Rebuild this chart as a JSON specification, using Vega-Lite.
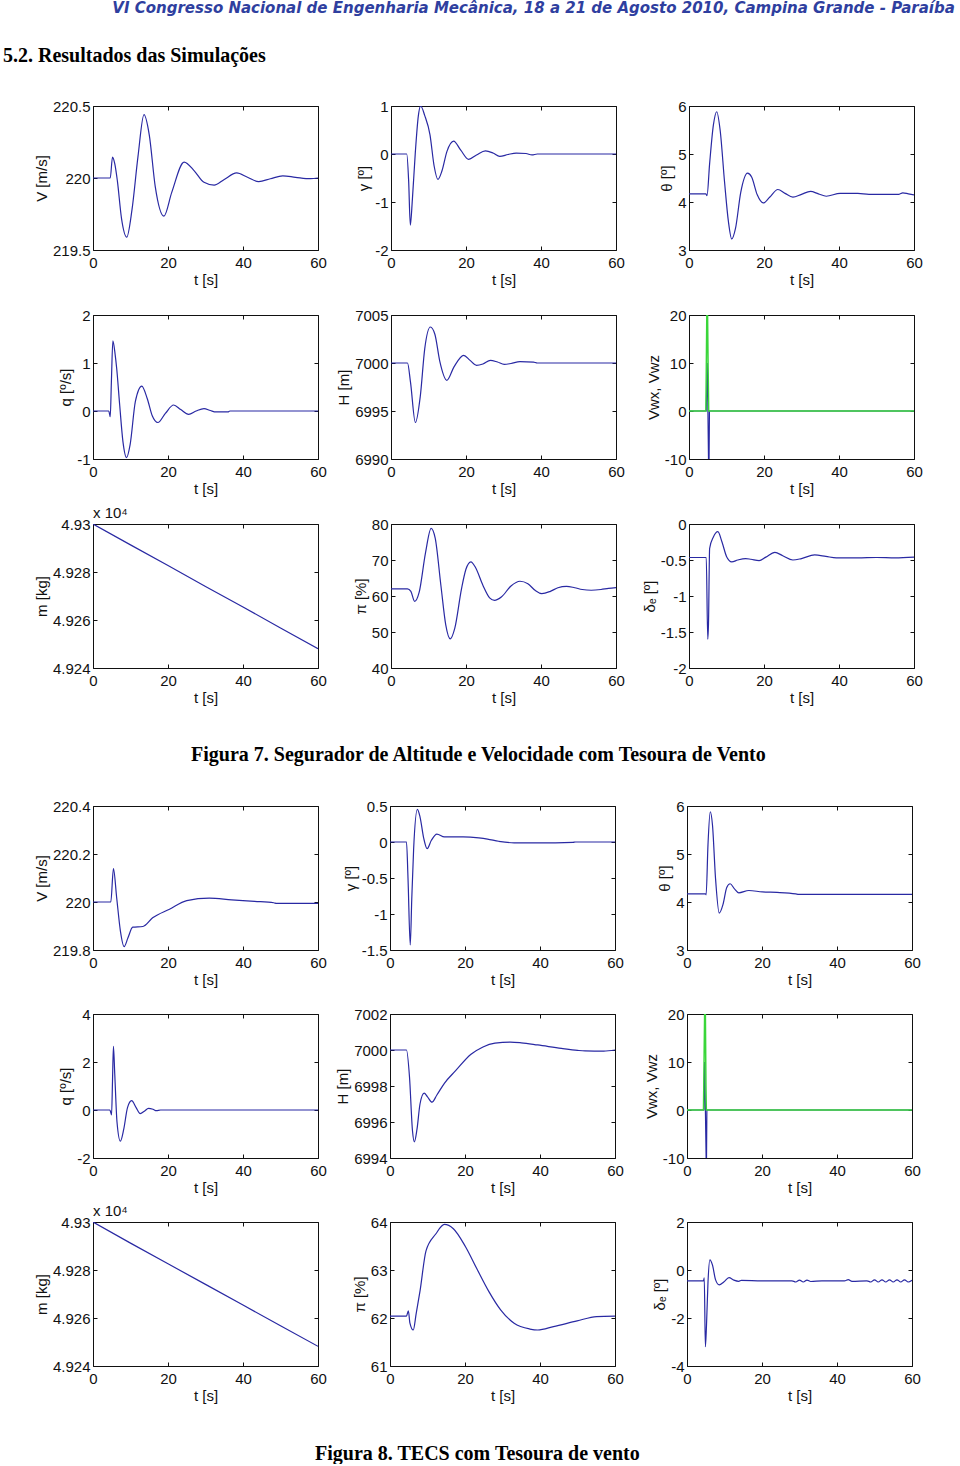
{
"$schema":"https://vega.github.io/schema/vega-lite/v6.json",
"autosize":{"type":"pad"},
"padding":{"left":2,"top":0,"right":0,"bottom":0},
"background":"white",
"title":{"text":"VI Congresso Nacional de Engenharia Mecânica, 18 a 21 de Agosto 2010, Campina Grande - Paraíba","anchor":"end","dx":32,"offset":30,"font":"DejaVu Sans","fontSize":15,"fontStyle":"italic","fontWeight":"bold","color":"#2f3f9f"},
"datasets":{
"a7v":[{"t":0,"v":220},{"t":4.6,"v":220},{"t":5.2,"v":220.145},{"t":5.8,"v":220.1},{"t":6.5,"v":219.98},{"t":7.6,"v":219.72},{"t":9.0,"v":219.59},{"t":10.4,"v":219.78},{"t":12,"v":220.15},{"t":13.6,"v":220.44},{"t":15,"v":220.3},{"t":16.6,"v":219.94},{"t":18.9,"v":219.735},{"t":21,"v":219.9},{"t":24.3,"v":220.11},{"t":27,"v":220.05},{"t":29.6,"v":219.97},{"t":32.3,"v":219.95},{"t":35,"v":219.99},{"t":38.3,"v":220.035},{"t":41.2,"v":220.005},{"t":44.2,"v":219.975},{"t":47.3,"v":219.995},{"t":50.6,"v":220.015},{"t":54,"v":220.005},{"t":58,"v":219.995},{"t":60,"v":220}],
"a7g":[{"t":0,"v":0},{"t":4.2,"v":0},{"t":4.7,"v":-0.55},{"t":5.15,"v":-1.48},{"t":5.7,"v":-0.95},{"t":6.5,"v":0.05},{"t":7.3,"v":0.8},{"t":7.9,"v":1.0},{"t":9,"v":0.8},{"t":10.4,"v":0.4},{"t":11.5,"v":-0.25},{"t":12.5,"v":-0.53},{"t":13.6,"v":-0.35},{"t":14.9,"v":0.05},{"t":16.7,"v":0.27},{"t":18.6,"v":0.08},{"t":20.7,"v":-0.11},{"t":22.8,"v":-0.02},{"t":25.2,"v":0.065},{"t":27.2,"v":0.02},{"t":29,"v":-0.05},{"t":31.2,"v":-0.01},{"t":33.4,"v":0.02},{"t":36,"v":0.01},{"t":37.6,"v":-0.02},{"t":39,"v":0},{"t":60,"v":0}],
"a7th":[{"t":0,"v":4.17},{"t":4.5,"v":4.17},{"t":4.8,"v":4.13},{"t":5.5,"v":4.8},{"t":6.5,"v":5.6},{"t":7.4,"v":5.88},{"t":8.3,"v":5.5},{"t":9.5,"v":4.4},{"t":10.5,"v":3.6},{"t":11.4,"v":3.23},{"t":12.4,"v":3.45},{"t":13.8,"v":4.2},{"t":15.6,"v":4.6},{"t":16.7,"v":4.52},{"t":18.2,"v":4.15},{"t":19.8,"v":3.98},{"t":21.5,"v":4.1},{"t":23.7,"v":4.26},{"t":25.6,"v":4.18},{"t":27.7,"v":4.1},{"t":30,"v":4.16},{"t":32.4,"v":4.22},{"t":34.5,"v":4.17},{"t":36.6,"v":4.12},{"t":40.3,"v":4.18},{"t":45,"v":4.18},{"t":48,"v":4.16},{"t":56,"v":4.16},{"t":57,"v":4.19},{"t":58.5,"v":4.17},{"t":60,"v":4.15}],
"a7q":[{"t":0,"v":0},{"t":4.2,"v":0},{"t":4.6,"v":-0.12},{"t":4.9,"v":0.6},{"t":5.3,"v":1.46},{"t":5.9,"v":1.18},{"t":6.3,"v":0.9},{"t":7.1,"v":0.14},{"t":8,"v":-0.65},{"t":8.95,"v":-0.97},{"t":9.9,"v":-0.7},{"t":11.3,"v":0.2},{"t":13,"v":0.52},{"t":14.5,"v":0.25},{"t":15.8,"v":-0.1},{"t":17.3,"v":-0.24},{"t":19.3,"v":-0.05},{"t":21.5,"v":0.125},{"t":23.4,"v":0.03},{"t":25.5,"v":-0.07},{"t":27.5,"v":0},{"t":29.6,"v":0.05},{"t":31.3,"v":0.01},{"t":32.8,"v":-0.02},{"t":36,"v":-0.02},{"t":36.5,"v":0},{"t":60,"v":0}],
"a7h":[{"t":0,"v":7000},{"t":4.4,"v":7000},{"t":5.2,"v":6998},{"t":6.5,"v":6993.8},{"t":7.8,"v":6996.5},{"t":9,"v":7001.5},{"t":10.5,"v":7003.75},{"t":11.7,"v":7003},{"t":13,"v":7000.2},{"t":14.9,"v":6998.2},{"t":16.8,"v":6999.6},{"t":19.4,"v":7000.8},{"t":21,"v":7000.3},{"t":22.8,"v":6999.76},{"t":24.5,"v":6999.9},{"t":26.5,"v":7000.28},{"t":28.4,"v":7000.1},{"t":30.2,"v":6999.86},{"t":32,"v":6999.95},{"t":34.4,"v":7000.14},{"t":38,"v":7000.1},{"t":39,"v":7000},{"t":60,"v":7000}],
"a7wz":[{"t":0,"v":0},{"t":4.6,"v":0},{"t":4.85,"v":10},{"t":5.0,"v":3},{"t":5.2,"v":-10},{"t":5.35,"v":-10},{"t":5.45,"v":0},{"t":60,"v":0}],
"a7wx":[{"t":0,"v":0},{"t":4.5,"v":0},{"t":4.75,"v":20},{"t":4.95,"v":20},{"t":5.1,"v":9},{"t":5.25,"v":0},{"t":60,"v":0}],
"a7m":[{"t":0,"v":4.93},{"t":10,"v":4.92913},{"t":20,"v":4.92827},{"t":30,"v":4.9274},{"t":40,"v":4.92654},{"t":50,"v":4.92567},{"t":60,"v":4.9248}],
"a7p":[{"t":0,"v":62},{"t":4.4,"v":62},{"t":5.3,"v":61.3},{"t":6.3,"v":58.5},{"t":7.5,"v":61},{"t":9.2,"v":72},{"t":10.7,"v":78.8},{"t":11.8,"v":76},{"t":13.3,"v":63},{"t":14.6,"v":52},{"t":15.8,"v":48.1},{"t":17,"v":51},{"t":18.8,"v":62},{"t":20,"v":67.5},{"t":21.3,"v":69.5},{"t":22.5,"v":68},{"t":24.5,"v":63},{"t":26.3,"v":59.5},{"t":27.6,"v":58.8},{"t":29.5,"v":59.8},{"t":32,"v":62.8},{"t":34.4,"v":64.1},{"t":36.5,"v":63.4},{"t":38.5,"v":61.5},{"t":40.2,"v":60.65},{"t":42.5,"v":61.3},{"t":44.5,"v":62.3},{"t":46.8,"v":62.7},{"t":49,"v":62.3},{"t":51,"v":61.8},{"t":53.4,"v":61.6},{"t":56,"v":61.8},{"t":58,"v":62.1},{"t":60,"v":62.3}],
"a7d":[{"t":0,"v":-0.465},{"t":4.6,"v":-0.465},{"t":5.0,"v":-1.6},{"t":5.2,"v":-1.38},{"t":5.5,"v":-0.34},{"t":6.5,"v":-0.18},{"t":7.7,"v":-0.107},{"t":8.8,"v":-0.25},{"t":10,"v":-0.45},{"t":11.4,"v":-0.526},{"t":13,"v":-0.5},{"t":15.1,"v":-0.48},{"t":16.5,"v":-0.49},{"t":18.7,"v":-0.51},{"t":20.5,"v":-0.46},{"t":22.9,"v":-0.395},{"t":25,"v":-0.44},{"t":27.7,"v":-0.5},{"t":30,"v":-0.48},{"t":33.5,"v":-0.43},{"t":36.5,"v":-0.45},{"t":39.3,"v":-0.47},{"t":45,"v":-0.47},{"t":50,"v":-0.465},{"t":55,"v":-0.47},{"t":60,"v":-0.46}],
"b8v":[{"t":0,"v":220},{"t":4.75,"v":220},{"t":5.45,"v":220.139},{"t":6.3,"v":220.02},{"t":7.3,"v":219.88},{"t":8.3,"v":219.814},{"t":9.3,"v":219.85},{"t":10.6,"v":219.895},{"t":13.3,"v":219.898},{"t":15.9,"v":219.934},{"t":20.4,"v":219.97},{"t":25,"v":220.006},{"t":31,"v":220.016},{"t":37,"v":220.009},{"t":43.1,"v":220.003},{"t":48.2,"v":219.997},{"t":49,"v":219.994},{"t":60,"v":219.994}],
"b8g":[{"t":0,"v":0},{"t":4.4,"v":0},{"t":4.8,"v":-0.5},{"t":5.4,"v":-1.43},{"t":5.8,"v":-0.8},{"t":6.3,"v":-0.1},{"t":7.3,"v":0.453},{"t":8,"v":0.35},{"t":9,"v":0.05},{"t":9.9,"v":-0.093},{"t":11,"v":0.02},{"t":12.5,"v":0.11},{"t":14.5,"v":0.07},{"t":19.5,"v":0.07},{"t":23.7,"v":0.056},{"t":26,"v":0.04},{"t":29,"v":0.01},{"t":33.1,"v":-0.012},{"t":39.4,"v":-0.012},{"t":48.8,"v":-0.005},{"t":49.5,"v":0},{"t":60,"v":0}],
"b8th":[{"t":0,"v":4.17},{"t":4.9,"v":4.17},{"t":5.1,"v":4.15},{"t":5.6,"v":5.2},{"t":6.2,"v":5.88},{"t":6.8,"v":5.6},{"t":7.6,"v":4.5},{"t":8.6,"v":3.77},{"t":9.6,"v":3.95},{"t":10.6,"v":4.3},{"t":11.5,"v":4.38},{"t":12.6,"v":4.28},{"t":13.8,"v":4.19},{"t":16.5,"v":4.24},{"t":20.1,"v":4.21},{"t":24,"v":4.2},{"t":29,"v":4.17},{"t":29.8,"v":4.16},{"t":33.8,"v":4.16},{"t":60,"v":4.16}],
"b8q":[{"t":0,"v":0},{"t":4.5,"v":0},{"t":4.95,"v":-0.2},{"t":5.2,"v":1.2},{"t":5.45,"v":2.65},{"t":5.8,"v":1.5},{"t":6.4,"v":-0.5},{"t":7.3,"v":-1.3},{"t":8.2,"v":-0.8},{"t":9.2,"v":0.1},{"t":10.3,"v":0.39},{"t":11.5,"v":0.1},{"t":12.6,"v":-0.15},{"t":13.7,"v":-0.05},{"t":14.8,"v":0.07},{"t":16,"v":0.03},{"t":16.9,"v":-0.03},{"t":18,"v":0},{"t":60,"v":0}],
"b8h":[{"t":0,"v":7000},{"t":4.4,"v":7000},{"t":5.2,"v":6998.5},{"t":6,"v":6995.5},{"t":6.5,"v":6994.9},{"t":7.2,"v":6995.6},{"t":8,"v":6997.0},{"t":9.1,"v":6997.6},{"t":10,"v":6997.4},{"t":11.2,"v":6997.1},{"t":12.5,"v":6997.5},{"t":14.5,"v":6998.15},{"t":17.5,"v":6998.85},{"t":21.6,"v":6999.76},{"t":24.8,"v":7000.17},{"t":28,"v":7000.38},{"t":32.1,"v":7000.44},{"t":35,"v":7000.4},{"t":39.4,"v":7000.28},{"t":45.7,"v":7000.09},{"t":50,"v":6999.98},{"t":52,"v":6999.95},{"t":57,"v":6999.94},{"t":60,"v":7000}],
"b8wz":[{"t":0,"v":0},{"t":4.5,"v":0},{"t":4.7,"v":10},{"t":4.85,"v":3},{"t":5.1,"v":-10},{"t":5.2,"v":-10},{"t":5.3,"v":0},{"t":60,"v":0}],
"b8wx":[{"t":0,"v":0},{"t":4.4,"v":0},{"t":4.7,"v":20},{"t":4.9,"v":20},{"t":5.05,"v":5},{"t":5.15,"v":0},{"t":60,"v":0}],
"b8m":[{"t":0,"v":4.93},{"t":10,"v":4.92912},{"t":20,"v":4.92826},{"t":30,"v":4.9274},{"t":40,"v":4.92654},{"t":50,"v":4.92568},{"t":60,"v":4.92482}],
"b8p":[{"t":0,"v":62.04},{"t":4.4,"v":62.04},{"t":4.9,"v":62.15},{"t":5.3,"v":61.9},{"t":6.2,"v":61.75},{"t":7,"v":62.1},{"t":8,"v":62.56},{"t":9.6,"v":63.4},{"t":12.2,"v":63.75},{"t":14.5,"v":63.95},{"t":16.9,"v":63.86},{"t":20.1,"v":63.49},{"t":23.2,"v":63.02},{"t":26.3,"v":62.56},{"t":29.5,"v":62.17},{"t":33.1,"v":61.89},{"t":37.3,"v":61.77},{"t":39.4,"v":61.75},{"t":43.6,"v":61.82},{"t":49.9,"v":61.94},{"t":55.1,"v":62.03},{"t":60,"v":62.04}],
"b8d":[{"t":0,"v":-0.45},{"t":4.4,"v":-0.45},{"t":4.6,"v":-0.33},{"t":4.9,"v":-3.2},{"t":5.2,"v":-2.3},{"t":5.6,"v":-0.5},{"t":6.1,"v":0.42},{"t":6.8,"v":0.2},{"t":7.6,"v":-0.4},{"t":8.6,"v":-0.62},{"t":9.8,"v":-0.5},{"t":11.2,"v":-0.32},{"t":12.5,"v":-0.42},{"t":13.8,"v":-0.47},{"t":14.5,"v":-0.43},{"t":20,"v":-0.45},{"t":28,"v":-0.45},{"t":29,"v":-0.5},{"t":30,"v":-0.42},{"t":31,"v":-0.5},{"t":32,"v":-0.42},{"t":33,"v":-0.48},{"t":36,"v":-0.45},{"t":42,"v":-0.45},{"t":43,"v":-0.4},{"t":44,"v":-0.47},{"t":48,"v":-0.45},{"t":49,"v":-0.5},{"t":50,"v":-0.41},{"t":51,"v":-0.5},{"t":52,"v":-0.41},{"t":53,"v":-0.5},{"t":54,"v":-0.41},{"t":55,"v":-0.5},{"t":56,"v":-0.41},{"t":57,"v":-0.5},{"t":58,"v":-0.41},{"t":59,"v":-0.5},{"t":60,"v":-0.43}]
},
"vconcat":[{
"title":{"text":"5.2. Resultados das Simulações","anchor":"start","dx":-31,"offset":33,"font":"Liberation Serif","fontSize":20,"fontWeight":"bold","color":"#000"},
"spacing":33,
"vconcat":[
{
"title":{"text":"Figura 7. Segurador de Altitude e Velocidade com Tesoura de Vento","orient":"bottom","anchor":"middle","offset":39,"font":"Liberation Serif","fontSize":20,"fontWeight":"bold","color":"#000"},
"columns":3,"bounds":"flush","spacing":{"row":65,"column":73},
"concat":[
{"width":225,"height":144,"data":{"name":"a7v"},"layer":[
 {"mark":{"type":"line","clip":true},"encoding":{"x":{"field":"t","type":"quantitative","scale":{"domain":[0,60],"nice":false},"axis":{"values":[0,20,40,60],"title":"t [s]"}},"y":{"field":"v","type":"quantitative","scale":{"domain":[219.5,220.5],"nice":false,"zero":false},"axis":{"values":[219.5,220,220.5],"title":"V [m/s]","labelExpr":"'' + datum.value"}}}},
 {"mark":{"type":"line","opacity":0},"encoding":{"x":{"field":"t","type":"quantitative","scale":{"domain":[0,60],"nice":false},"axis":{"orient":"top","values":[0,20,40,60],"labels":false,"title":null}},"y":{"field":"v","type":"quantitative","scale":{"domain":[219.5,220.5],"nice":false,"zero":false},"axis":{"orient":"right","values":[219.5,220,220.5],"labels":false,"title":null}}}}
],"resolve":{"axis":{"x":"independent","y":"independent"}}},
{"width":225,"height":144,"data":{"name":"a7g"},"layer":[
 {"mark":{"type":"line","clip":true},"encoding":{"x":{"field":"t","type":"quantitative","scale":{"domain":[0,60],"nice":false},"axis":{"values":[0,20,40,60],"title":"t [s]"}},"y":{"field":"v","type":"quantitative","scale":{"domain":[-2,1],"nice":false,"zero":false},"axis":{"values":[-2,-1,0,1],"title":"γ [º]","labelExpr":"'' + datum.value"}}}},
 {"mark":{"type":"line","opacity":0},"encoding":{"x":{"field":"t","type":"quantitative","scale":{"domain":[0,60],"nice":false},"axis":{"orient":"top","values":[0,20,40,60],"labels":false,"title":null}},"y":{"field":"v","type":"quantitative","scale":{"domain":[-2,1],"nice":false,"zero":false},"axis":{"orient":"right","values":[-2,-1,0,1],"labels":false,"title":null}}}}
],"resolve":{"axis":{"x":"independent","y":"independent"}}},
{"width":225,"height":144,"data":{"name":"a7th"},"layer":[
 {"mark":{"type":"line","clip":true},"encoding":{"x":{"field":"t","type":"quantitative","scale":{"domain":[0,60],"nice":false},"axis":{"values":[0,20,40,60],"title":"t [s]"}},"y":{"field":"v","type":"quantitative","scale":{"domain":[3,6],"nice":false,"zero":false},"axis":{"values":[3,4,5,6],"title":"θ [º]","labelExpr":"'' + datum.value"}}}},
 {"mark":{"type":"line","opacity":0},"encoding":{"x":{"field":"t","type":"quantitative","scale":{"domain":[0,60],"nice":false},"axis":{"orient":"top","values":[0,20,40,60],"labels":false,"title":null}},"y":{"field":"v","type":"quantitative","scale":{"domain":[3,6],"nice":false,"zero":false},"axis":{"orient":"right","values":[3,4,5,6],"labels":false,"title":null}}}}
],"resolve":{"axis":{"x":"independent","y":"independent"}}},
{"width":225,"height":144,"data":{"name":"a7q"},"layer":[
 {"mark":{"type":"line","clip":true},"encoding":{"x":{"field":"t","type":"quantitative","scale":{"domain":[0,60],"nice":false},"axis":{"values":[0,20,40,60],"title":"t [s]"}},"y":{"field":"v","type":"quantitative","scale":{"domain":[-1,2],"nice":false,"zero":false},"axis":{"values":[-1,0,1,2],"title":"q [º/s]","labelExpr":"'' + datum.value"}}}},
 {"mark":{"type":"line","opacity":0},"encoding":{"x":{"field":"t","type":"quantitative","scale":{"domain":[0,60],"nice":false},"axis":{"orient":"top","values":[0,20,40,60],"labels":false,"title":null}},"y":{"field":"v","type":"quantitative","scale":{"domain":[-1,2],"nice":false,"zero":false},"axis":{"orient":"right","values":[-1,0,1,2],"labels":false,"title":null}}}}
],"resolve":{"axis":{"x":"independent","y":"independent"}}},
{"width":225,"height":144,"data":{"name":"a7h"},"layer":[
 {"mark":{"type":"line","clip":true},"encoding":{"x":{"field":"t","type":"quantitative","scale":{"domain":[0,60],"nice":false},"axis":{"values":[0,20,40,60],"title":"t [s]"}},"y":{"field":"v","type":"quantitative","scale":{"domain":[6990,7005],"nice":false,"zero":false},"axis":{"values":[6990,6995,7000,7005],"title":"H [m]","labelExpr":"'' + datum.value"}}}},
 {"mark":{"type":"line","opacity":0},"encoding":{"x":{"field":"t","type":"quantitative","scale":{"domain":[0,60],"nice":false},"axis":{"orient":"top","values":[0,20,40,60],"labels":false,"title":null}},"y":{"field":"v","type":"quantitative","scale":{"domain":[6990,7005],"nice":false,"zero":false},"axis":{"orient":"right","values":[6990,6995,7000,7005],"labels":false,"title":null}}}}
],"resolve":{"axis":{"x":"independent","y":"independent"}}},
{"width":225,"height":144,"layer":[
 {"data":{"name":"a7wz"},"mark":{"type":"line","clip":true,"interpolate":"linear"},"encoding":{"x":{"field":"t","type":"quantitative","scale":{"domain":[0,60],"nice":false},"axis":{"values":[0,20,40,60],"title":"t [s]"}},"y":{"field":"v","type":"quantitative","scale":{"domain":[-10,20],"nice":false,"zero":false},"axis":{"values":[-10,0,10,20],"title":"Vwx, Vwz","labelExpr":"'' + datum.value"}}}},
 {"data":{"name":"a7wx"},"mark":{"type":"line","clip":true,"interpolate":"linear","color":"#3ad63a","strokeWidth":1.5},"encoding":{"x":{"field":"t","type":"quantitative","scale":{"domain":[0,60],"nice":false},"axis":null},"y":{"field":"v","type":"quantitative","scale":{"domain":[-10,20],"nice":false,"zero":false},"axis":null}}},
 {"data":{"name":"a7wx"},"mark":{"type":"line","opacity":0},"encoding":{"x":{"field":"t","type":"quantitative","scale":{"domain":[0,60],"nice":false},"axis":{"orient":"top","values":[0,20,40,60],"labels":false,"title":null}},"y":{"field":"v","type":"quantitative","scale":{"domain":[-10,20],"nice":false,"zero":false},"axis":{"orient":"right","values":[-10,0,10,20],"labels":false,"title":null}}}}
],"resolve":{"axis":{"x":"independent","y":"independent"}}},
{"width":225,"height":144,"data":{"name":"a7m"},"title":{"text":"x 10⁴","anchor":"start","frame":"group","offset":-4,"font":"Liberation Sans","fontSize":15,"fontWeight":"normal","color":"#111"},"layer":[
 {"mark":{"type":"line","clip":true,"interpolate":"linear"},"encoding":{"x":{"field":"t","type":"quantitative","scale":{"domain":[0,60],"nice":false},"axis":{"values":[0,20,40,60],"title":"t [s]"}},"y":{"field":"v","type":"quantitative","scale":{"domain":[4.924,4.93],"nice":false,"zero":false},"axis":{"values":[4.924,4.926,4.928,4.93],"title":"m [kg]","labelExpr":"'' + datum.value"}}}},
 {"mark":{"type":"line","opacity":0},"encoding":{"x":{"field":"t","type":"quantitative","scale":{"domain":[0,60],"nice":false},"axis":{"orient":"top","values":[0,20,40,60],"labels":false,"title":null}},"y":{"field":"v","type":"quantitative","scale":{"domain":[4.924,4.93],"nice":false,"zero":false},"axis":{"orient":"right","values":[4.924,4.926,4.928,4.93],"labels":false,"title":null}}}}
],"resolve":{"axis":{"x":"independent","y":"independent"}}},
{"width":225,"height":144,"data":{"name":"a7p"},"layer":[
 {"mark":{"type":"line","clip":true},"encoding":{"x":{"field":"t","type":"quantitative","scale":{"domain":[0,60],"nice":false},"axis":{"values":[0,20,40,60],"title":"t [s]"}},"y":{"field":"v","type":"quantitative","scale":{"domain":[40,80],"nice":false,"zero":false},"axis":{"values":[40,50,60,70,80],"title":"π [%]","labelExpr":"'' + datum.value"}}}},
 {"mark":{"type":"line","opacity":0},"encoding":{"x":{"field":"t","type":"quantitative","scale":{"domain":[0,60],"nice":false},"axis":{"orient":"top","values":[0,20,40,60],"labels":false,"title":null}},"y":{"field":"v","type":"quantitative","scale":{"domain":[40,80],"nice":false,"zero":false},"axis":{"orient":"right","values":[40,50,60,70,80],"labels":false,"title":null}}}}
],"resolve":{"axis":{"x":"independent","y":"independent"}}},
{"width":225,"height":144,"data":{"name":"a7d"},"layer":[
 {"mark":{"type":"line","clip":true},"encoding":{"x":{"field":"t","type":"quantitative","scale":{"domain":[0,60],"nice":false},"axis":{"values":[0,20,40,60],"title":"t [s]"}},"y":{"field":"v","type":"quantitative","scale":{"domain":[-2,0],"nice":false,"zero":false},"axis":{"values":[-2,-1.5,-1,-0.5,0],"title":"δₑ [º]","labelExpr":"'' + datum.value"}}}},
 {"mark":{"type":"line","opacity":0},"encoding":{"x":{"field":"t","type":"quantitative","scale":{"domain":[0,60],"nice":false},"axis":{"orient":"top","values":[0,20,40,60],"labels":false,"title":null}},"y":{"field":"v","type":"quantitative","scale":{"domain":[-2,0],"nice":false,"zero":false},"axis":{"orient":"right","values":[-2,-1.5,-1,-0.5,0],"labels":false,"title":null}}}}
],"resolve":{"axis":{"x":"independent","y":"independent"}}}
]},
{
"title":{"text":"Figura 8. TECS com Tesoura de vento","orient":"bottom","anchor":"middle","offset":40,"font":"Liberation Serif","fontSize":20,"fontWeight":"bold","color":"#000"},
"columns":3,"bounds":"flush","spacing":{"row":64,"column":72},
"concat":[
{"width":225,"height":144,"data":{"name":"b8v"},"layer":[
 {"mark":{"type":"line","clip":true},"encoding":{"x":{"field":"t","type":"quantitative","scale":{"domain":[0,60],"nice":false},"axis":{"values":[0,20,40,60],"title":"t [s]"}},"y":{"field":"v","type":"quantitative","scale":{"domain":[219.8,220.4],"nice":false,"zero":false},"axis":{"values":[219.8,220,220.2,220.4],"title":"V [m/s]","labelExpr":"'' + datum.value"}}}},
 {"mark":{"type":"line","opacity":0},"encoding":{"x":{"field":"t","type":"quantitative","scale":{"domain":[0,60],"nice":false},"axis":{"orient":"top","values":[0,20,40,60],"labels":false,"title":null}},"y":{"field":"v","type":"quantitative","scale":{"domain":[219.8,220.4],"nice":false,"zero":false},"axis":{"orient":"right","values":[219.8,220,220.2,220.4],"labels":false,"title":null}}}}
],"resolve":{"axis":{"x":"independent","y":"independent"}}},
{"width":225,"height":144,"data":{"name":"b8g"},"layer":[
 {"mark":{"type":"line","clip":true},"encoding":{"x":{"field":"t","type":"quantitative","scale":{"domain":[0,60],"nice":false},"axis":{"values":[0,20,40,60],"title":"t [s]"}},"y":{"field":"v","type":"quantitative","scale":{"domain":[-1.5,0.5],"nice":false,"zero":false},"axis":{"values":[-1.5,-1,-0.5,0,0.5],"title":"γ [º]","labelExpr":"'' + datum.value"}}}},
 {"mark":{"type":"line","opacity":0},"encoding":{"x":{"field":"t","type":"quantitative","scale":{"domain":[0,60],"nice":false},"axis":{"orient":"top","values":[0,20,40,60],"labels":false,"title":null}},"y":{"field":"v","type":"quantitative","scale":{"domain":[-1.5,0.5],"nice":false,"zero":false},"axis":{"orient":"right","values":[-1.5,-1,-0.5,0,0.5],"labels":false,"title":null}}}}
],"resolve":{"axis":{"x":"independent","y":"independent"}}},
{"width":225,"height":144,"data":{"name":"b8th"},"layer":[
 {"mark":{"type":"line","clip":true},"encoding":{"x":{"field":"t","type":"quantitative","scale":{"domain":[0,60],"nice":false},"axis":{"values":[0,20,40,60],"title":"t [s]"}},"y":{"field":"v","type":"quantitative","scale":{"domain":[3,6],"nice":false,"zero":false},"axis":{"values":[3,4,5,6],"title":"θ [º]","labelExpr":"'' + datum.value"}}}},
 {"mark":{"type":"line","opacity":0},"encoding":{"x":{"field":"t","type":"quantitative","scale":{"domain":[0,60],"nice":false},"axis":{"orient":"top","values":[0,20,40,60],"labels":false,"title":null}},"y":{"field":"v","type":"quantitative","scale":{"domain":[3,6],"nice":false,"zero":false},"axis":{"orient":"right","values":[3,4,5,6],"labels":false,"title":null}}}}
],"resolve":{"axis":{"x":"independent","y":"independent"}}},
{"width":225,"height":144,"data":{"name":"b8q"},"layer":[
 {"mark":{"type":"line","clip":true},"encoding":{"x":{"field":"t","type":"quantitative","scale":{"domain":[0,60],"nice":false},"axis":{"values":[0,20,40,60],"title":"t [s]"}},"y":{"field":"v","type":"quantitative","scale":{"domain":[-2,4],"nice":false,"zero":false},"axis":{"values":[-2,0,2,4],"title":"q [º/s]","labelExpr":"'' + datum.value"}}}},
 {"mark":{"type":"line","opacity":0},"encoding":{"x":{"field":"t","type":"quantitative","scale":{"domain":[0,60],"nice":false},"axis":{"orient":"top","values":[0,20,40,60],"labels":false,"title":null}},"y":{"field":"v","type":"quantitative","scale":{"domain":[-2,4],"nice":false,"zero":false},"axis":{"orient":"right","values":[-2,0,2,4],"labels":false,"title":null}}}}
],"resolve":{"axis":{"x":"independent","y":"independent"}}},
{"width":225,"height":144,"data":{"name":"b8h"},"layer":[
 {"mark":{"type":"line","clip":true},"encoding":{"x":{"field":"t","type":"quantitative","scale":{"domain":[0,60],"nice":false},"axis":{"values":[0,20,40,60],"title":"t [s]"}},"y":{"field":"v","type":"quantitative","scale":{"domain":[6994,7002],"nice":false,"zero":false},"axis":{"values":[6994,6996,6998,7000,7002],"title":"H [m]","labelExpr":"'' + datum.value"}}}},
 {"mark":{"type":"line","opacity":0},"encoding":{"x":{"field":"t","type":"quantitative","scale":{"domain":[0,60],"nice":false},"axis":{"orient":"top","values":[0,20,40,60],"labels":false,"title":null}},"y":{"field":"v","type":"quantitative","scale":{"domain":[6994,7002],"nice":false,"zero":false},"axis":{"orient":"right","values":[6994,6996,6998,7000,7002],"labels":false,"title":null}}}}
],"resolve":{"axis":{"x":"independent","y":"independent"}}},
{"width":225,"height":144,"layer":[
 {"data":{"name":"b8wz"},"mark":{"type":"line","clip":true,"interpolate":"linear"},"encoding":{"x":{"field":"t","type":"quantitative","scale":{"domain":[0,60],"nice":false},"axis":{"values":[0,20,40,60],"title":"t [s]"}},"y":{"field":"v","type":"quantitative","scale":{"domain":[-10,20],"nice":false,"zero":false},"axis":{"values":[-10,0,10,20],"title":"Vwx, Vwz","labelExpr":"'' + datum.value"}}}},
 {"data":{"name":"b8wx"},"mark":{"type":"line","clip":true,"interpolate":"linear","color":"#3ad63a","strokeWidth":1.5},"encoding":{"x":{"field":"t","type":"quantitative","scale":{"domain":[0,60],"nice":false},"axis":null},"y":{"field":"v","type":"quantitative","scale":{"domain":[-10,20],"nice":false,"zero":false},"axis":null}}},
 {"data":{"name":"b8wx"},"mark":{"type":"line","opacity":0},"encoding":{"x":{"field":"t","type":"quantitative","scale":{"domain":[0,60],"nice":false},"axis":{"orient":"top","values":[0,20,40,60],"labels":false,"title":null}},"y":{"field":"v","type":"quantitative","scale":{"domain":[-10,20],"nice":false,"zero":false},"axis":{"orient":"right","values":[-10,0,10,20],"labels":false,"title":null}}}}
],"resolve":{"axis":{"x":"independent","y":"independent"}}},
{"width":225,"height":144,"data":{"name":"b8m"},"title":{"text":"x 10⁴","anchor":"start","frame":"group","offset":-4,"font":"Liberation Sans","fontSize":15,"fontWeight":"normal","color":"#111"},"layer":[
 {"mark":{"type":"line","clip":true,"interpolate":"linear"},"encoding":{"x":{"field":"t","type":"quantitative","scale":{"domain":[0,60],"nice":false},"axis":{"values":[0,20,40,60],"title":"t [s]"}},"y":{"field":"v","type":"quantitative","scale":{"domain":[4.924,4.93],"nice":false,"zero":false},"axis":{"values":[4.924,4.926,4.928,4.93],"title":"m [kg]","labelExpr":"'' + datum.value"}}}},
 {"mark":{"type":"line","opacity":0},"encoding":{"x":{"field":"t","type":"quantitative","scale":{"domain":[0,60],"nice":false},"axis":{"orient":"top","values":[0,20,40,60],"labels":false,"title":null}},"y":{"field":"v","type":"quantitative","scale":{"domain":[4.924,4.93],"nice":false,"zero":false},"axis":{"orient":"right","values":[4.924,4.926,4.928,4.93],"labels":false,"title":null}}}}
],"resolve":{"axis":{"x":"independent","y":"independent"}}},
{"width":225,"height":144,"data":{"name":"b8p"},"layer":[
 {"mark":{"type":"line","clip":true},"encoding":{"x":{"field":"t","type":"quantitative","scale":{"domain":[0,60],"nice":false},"axis":{"values":[0,20,40,60],"title":"t [s]"}},"y":{"field":"v","type":"quantitative","scale":{"domain":[61,64],"nice":false,"zero":false},"axis":{"values":[61,62,63,64],"title":"π [%]","labelExpr":"'' + datum.value"}}}},
 {"mark":{"type":"line","opacity":0},"encoding":{"x":{"field":"t","type":"quantitative","scale":{"domain":[0,60],"nice":false},"axis":{"orient":"top","values":[0,20,40,60],"labels":false,"title":null}},"y":{"field":"v","type":"quantitative","scale":{"domain":[61,64],"nice":false,"zero":false},"axis":{"orient":"right","values":[61,62,63,64],"labels":false,"title":null}}}}
],"resolve":{"axis":{"x":"independent","y":"independent"}}},
{"width":225,"height":144,"data":{"name":"b8d"},"layer":[
 {"mark":{"type":"line","clip":true},"encoding":{"x":{"field":"t","type":"quantitative","scale":{"domain":[0,60],"nice":false},"axis":{"values":[0,20,40,60],"title":"t [s]"}},"y":{"field":"v","type":"quantitative","scale":{"domain":[-4,2],"nice":false,"zero":false},"axis":{"values":[-4,-2,0,2],"title":"δₑ [º]","labelExpr":"'' + datum.value"}}}},
 {"mark":{"type":"line","opacity":0},"encoding":{"x":{"field":"t","type":"quantitative","scale":{"domain":[0,60],"nice":false},"axis":{"orient":"top","values":[0,20,40,60],"labels":false,"title":null}},"y":{"field":"v","type":"quantitative","scale":{"domain":[-4,2],"nice":false,"zero":false},"axis":{"orient":"right","values":[-4,-2,0,2],"labels":false,"title":null}}}}
],"resolve":{"axis":{"x":"independent","y":"independent"}}}
]}
]}],
"config":{
"view":{"stroke":"#111","strokeWidth":1},
"line":{"color":"#2929a3","strokeWidth":1.2,"interpolate":"monotone"},
"axis":{"domain":false,"grid":false,"tickSize":-4,"tickColor":"#111","tickWidth":1,"labelFont":"Liberation Sans","labelFontSize":15,"labelColor":"#111","labelFlush":false,"labelOverlap":false,"titleFont":"Liberation Sans","titleFontSize":15,"titleFontWeight":"normal","titleColor":"#111"},
"axisX":{"labelPadding":9,"titlePadding":2},
"axisY":{"labelPadding":7,"titlePadding":3}
}
}
